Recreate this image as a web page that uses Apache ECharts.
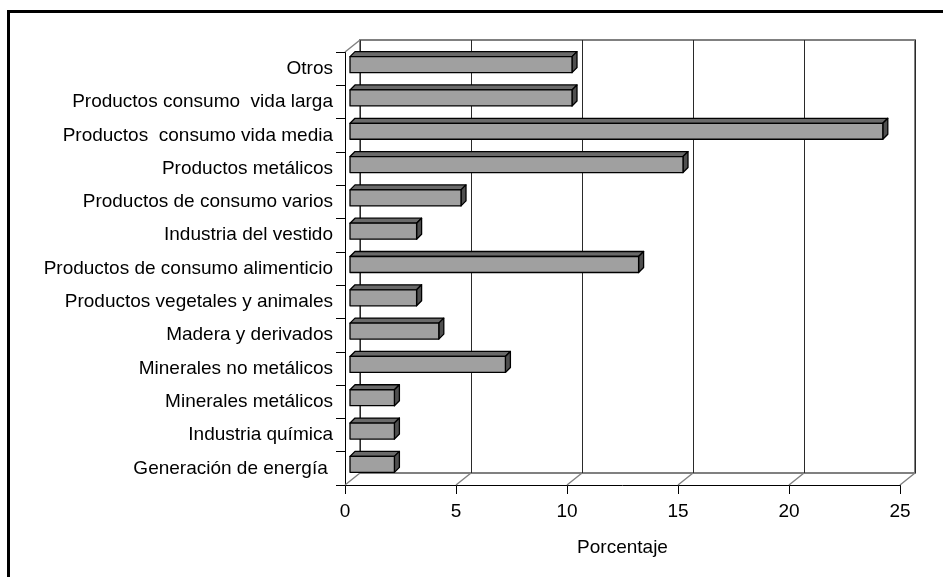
<!DOCTYPE html>
<html>
<head>
<meta charset="utf-8">
<script src="https://cdn.jsdelivr.net/npm/echarts@6/dist/echarts.min.js"></script>
<style>
html,body{margin:0;padding:0;background:#fff;}
#chart{width:943px;height:577px;}
</style>
</head>
<body>
<div id="chart"></div>
<script>
const categories = ['Generación de energía ', 'Industria química', 'Minerales metálicos', 'Minerales no metálicos', 'Madera y derivados', 'Productos vegetales y animales', 'Productos de consumo alimenticio', 'Industria del vestido', 'Productos de consumo varios', 'Productos metálicos', 'Productos  consumo vida media', 'Productos consumo  vida larga', 'Otros'];
const values = [2, 2, 2, 7, 4, 3, 13, 3, 5, 15, 24, 10, 10];
const xTicks = [0, 5, 10, 15, 20, 25];
const axisName = 'Porcentaje';

const FONT = 'Liberation Sans';
const chart = echarts.init(document.getElementById('chart'), null, {renderer: 'canvas'});

const DEPTH_X = 15, DEPTH_Y = -12;

const option = {
  animation: false,
  backgroundColor: '#fff',
  textStyle: {fontFamily: FONT},
  grid: [
    {left: 345, right: 43, top: 52, bottom: 92, show: false},
    {left: 360, right: 28, top: 40, bottom: 104, show: true, borderColor: '#808080', borderWidth: 2, backgroundColor: 'transparent'}
  ],
  xAxis: [
    {
      gridIndex: 0, type: 'value', min: 0, max: 25, interval: 5,
      axisLine: {show: true, lineStyle: {color: '#000', width: 1}},
      axisTick: {show: true, length: 9, lineStyle: {color: '#000'}},
      axisLabel: {color: '#000', fontSize: 19, fontFamily: FONT, margin: 17},
      splitLine: {show: false},
      name: axisName, nameLocation: 'middle', nameGap: 53,
      nameTextStyle: {color: '#000', fontSize: 19, fontFamily: FONT}
    },
    {
      gridIndex: 1, type: 'value', min: 0, max: 25, interval: 5,
      axisLine: {show: false}, axisTick: {show: false}, axisLabel: {show: false},
      splitLine: {show: true, lineStyle: {color: '#2a2a2a', width: 1}}
    }
  ],
  yAxis: [
    {
      gridIndex: 0, type: 'category', data: categories,
      axisLine: {show: true, lineStyle: {color: '#000', width: 1}},
      axisTick: {show: true, length: 9, lineStyle: {color: '#000'}},
      axisLabel: {color: '#000', fontSize: 19, fontFamily: FONT, margin: 12}
    },
    {
      gridIndex: 1, type: 'category', data: categories, show: false
    }
  ],
  graphic: [
    {
      type: 'polyline', silent: true, z: 100,
      shape: {points: [[8.5, 577], [8.5, 11.5], [943, 11.5]]},
      style: {stroke: '#000', lineWidth: 3, fill: null}
    }
  ],
  series: [
    {
      type: 'custom', name: 'floor', xAxisIndex: 0, yAxisIndex: 0, z: 1,
      data: xTicks.map(v => [v, 0]),
      encode: {x: 0, y: 1},
      silent: true,
      renderItem: function (params, api) {
        const cs = params.coordSys;
        const bottom = cs.y + cs.height;
        const x = api.coord([api.value(0), 0])[0];
        const children = [{
          type: 'line',
          shape: {x1: x, y1: bottom, x2: x + DEPTH_X, y2: bottom + DEPTH_Y},
          style: {stroke: '#808080', lineWidth: 1.5}
        }];
        if (params.dataIndex === 0) {
          children.push({
            type: 'line',
            shape: {x1: cs.x, y1: cs.y, x2: cs.x + DEPTH_X, y2: cs.y + DEPTH_Y},
            style: {stroke: '#808080', lineWidth: 1.5}
          });
        }
        return {type: 'group', children: children};
      }
    },
    {
      type: 'custom', name: 'bars', xAxisIndex: 0, yAxisIndex: 0, z: 5,
      data: values.map((v, i) => [v, i]),
      encode: {x: 0, y: 1},
      renderItem: function (params, api) {
        const v = api.value(0), i = api.value(1);
        const s = api.coord([0, i]);
        const e = api.coord([v, i]);
        const band = api.size([0, 1])[1];
        const fh = band * 0.48;
        const ox = 5, oy = -4;
        const bx = 5, by = -5;
        const x0 = s[0] + ox, x1 = e[0] + ox;
        const yc = s[1] + oy;
        const yT = yc - fh / 2, yB = yc + fh / 2;
        const stroke = {stroke: '#000', lineWidth: 1.3, lineJoin: 'round'};
        return {
          type: 'group',
          children: [
            {type: 'polygon', shape: {points: [[x0, yT], [x0 + bx, yT + by], [x1 + bx, yT + by], [x1, yT]]},
             style: Object.assign({fill: '#6a6a6a'}, stroke)},
            {type: 'polygon', shape: {points: [[x1, yT], [x1 + bx, yT + by], [x1 + bx, yB + by], [x1, yB]]},
             style: Object.assign({fill: '#4f4f4f'}, stroke)},
            {type: 'rect', shape: {x: x0, y: yT, width: x1 - x0, height: fh},
             style: Object.assign({fill: '#a0a0a0'}, stroke)}
          ]
        };
      }
    }
  ]
};
chart.setOption(option);
</script>
</body>
</html>
